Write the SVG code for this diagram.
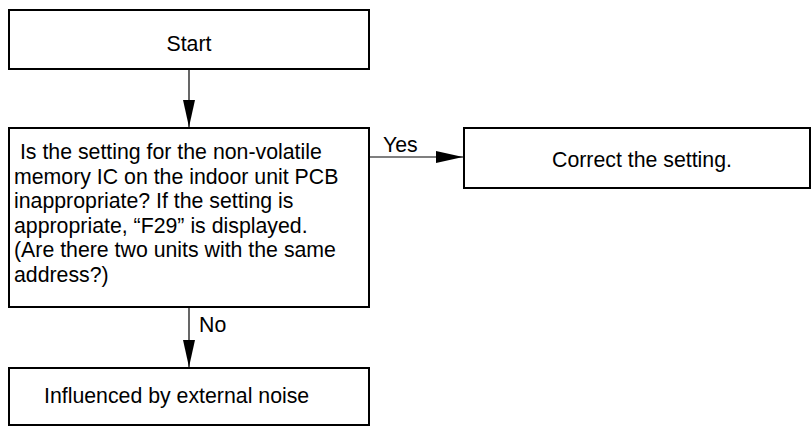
<svg xmlns="http://www.w3.org/2000/svg" width="812" height="426" viewBox="0 0 812 426">
<style>
.box{fill:#fff;stroke:#000;stroke-width:2}
.t{font-family:"Liberation Sans",Arial,sans-serif;font-size:21.3px;fill:#000;white-space:pre}
.c{text-anchor:middle}
.ln{stroke:#000;stroke-width:1.2;fill:none}
</style>
<defs>
<marker id="ah" markerWidth="27" markerHeight="12" refX="27" refY="6" orient="auto" markerUnits="userSpaceOnUse">
<path d="M0,0 L27,6 L0,12 Z" fill="#000"/>
</marker>
</defs>
<rect width="812" height="426" fill="#fff"/>
<g id="connectors">
<line class="ln" x1="189" y1="70" x2="189" y2="127" marker-end="url(#ah)"/>
<line class="ln" x1="370" y1="157" x2="463" y2="157" marker-end="url(#ah)"/>
<text class="t" x="383" y="152">Yes</text>
<line class="ln" x1="189" y1="308" x2="189" y2="367" marker-end="url(#ah)"/>
<text class="t" x="199" y="332">No</text>
</g>
<g id="start">
<rect class="box" x="9" y="10" width="360" height="59"/>
<text class="t c" x="189" y="51">Start</text>
</g>
<g id="decision">
<rect class="box" x="9" y="128" width="360" height="179"/>
<text class="t" x="14" y="159"> Is the setting for the non-volatile</text>
<text class="t" x="14" y="183.5">memory IC on the indoor unit PCB</text>
<text class="t" x="14" y="208">inappropriate? If the setting is</text>
<text class="t" x="14" y="232.5">appropriate, “F29” is displayed.</text>
<text class="t" x="14" y="257">(Are there two units with the same</text>
<text class="t" x="14" y="281.5">address?)</text>
</g>
<g id="correct">
<rect class="box" x="464" y="128" width="346" height="60"/>
<text class="t" x="552" y="167">Correct the setting.</text>
</g>
<g id="noise">
<rect class="box" x="9" y="368" width="360" height="57"/>
<text class="t" x="44" y="403">Influenced by external noise</text>
</g>
</svg>
